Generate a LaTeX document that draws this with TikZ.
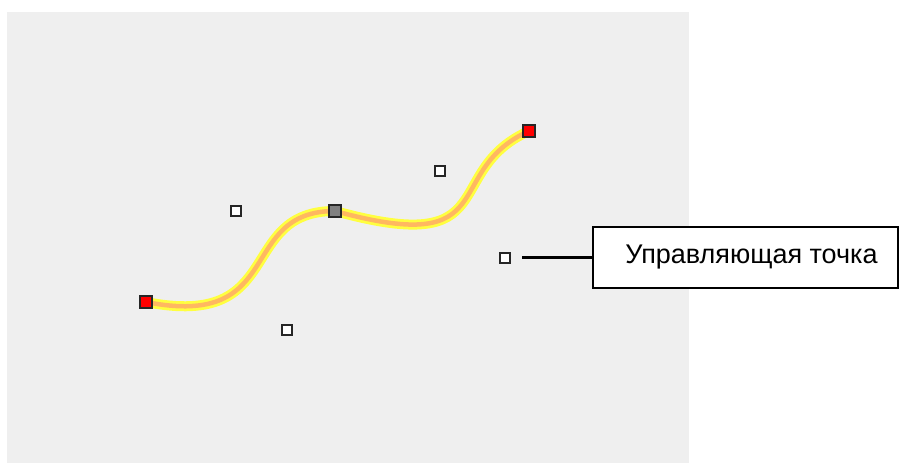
\documentclass[tikz,border=0pt]{standalone}
\usepackage{fontspec}
\setmainfont{Liberation Sans}
\definecolor{panel}{HTML}{EFEFEF}
\definecolor{curveyellow}{HTML}{FFFF40}
\definecolor{curveorange}{HTML}{FFB860}
\definecolor{midgray}{HTML}{808080}
\tikzset{
  ctrlpt/.style={draw=black!85, line width=1.3pt, fill=white, minimum size=10pt, inner sep=0pt, rectangle},
  endpt/.style={draw=black!85, line width=1.3pt, fill=red, minimum size=12pt, inner sep=0pt, rectangle},
  midpt/.style={draw=black!85, line width=1.3pt, fill=midgray, minimum size=12pt, inner sep=0pt, rectangle},
  callout/.style={draw=black, line width=2pt, fill=white, minimum width=305pt, minimum height=61pt, inner sep=0pt},
  callouttext/.style={inner sep=0pt, font=\fontsize{27}{30}\selectfont},
}
\begin{document}
\begin{tikzpicture}[x=1pt,y=-1pt]
\useasboundingbox (0,0) rectangle (899,463);
\fill[white] (0,0) rectangle (899,463);
\fill[panel] (7,12) rectangle (689,463);
% curve
\coordinate (s) at (146,302);
\coordinate (m) at (335,211);
\coordinate (e) at (529,131);
\coordinate (c1) at (287,330);
\coordinate (c2) at (236,211);
\coordinate (c3) at (505,258);
\coordinate (c4) at (440,171);
\draw[curveyellow, line width=10pt, line cap=round] (s) .. controls (c1) and (c2) .. (m) .. controls (c3) and (c4) .. (e);
\draw[curveorange, line width=4.5pt, line cap=round] (s) .. controls (c1) and (c2) .. (m) .. controls (c3) and (c4) .. (e);
% points
\node[ctrlpt] (p1) at (c1) {};
\node[ctrlpt] (p2) at (c2) {};
\node[ctrlpt] (p3) at (c3) {};
\node[ctrlpt] (p4) at (c4) {};
\node[endpt] (ps) at (s) {};
\node[endpt] (pe) at (e) {};
\node[midpt] (pm) at (m) {};
% callout
\node[callout] (lab) at (745.5,257.5) {};
\node[callouttext] (labtext) at ([xshift=6pt]lab.center) {Управляющая точка};
\coordinate (lstart) at (522,257.5);
\draw[black, line width=2.7pt] (lstart) -- (lab.west);
\end{tikzpicture}
\end{document}
